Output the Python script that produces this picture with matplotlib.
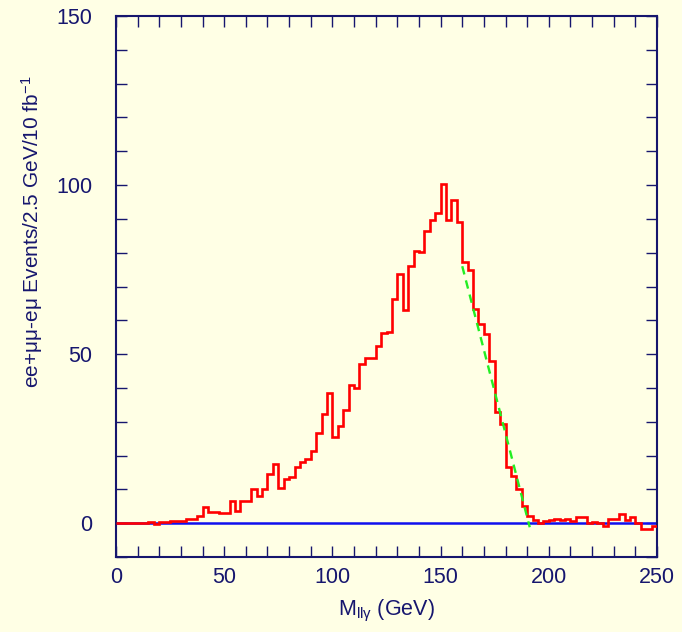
import numpy as np
import matplotlib
matplotlib.use("Agg")
import matplotlib.pyplot as plt
from matplotlib.ticker import MultipleLocator

# ---- data ----
bin_width = 2.5
x_start = 0.0
counts = [
    0, 0, 0, 0, 0, 0, 0.4, -0.2, 0.4, 0.4,
    0.7, 0.7, 0.7, 1.1, 1.1, 2.1, 4.8, 3.2, 3.2, 2.9,
    2.9, 6.6, 3.6, 6.6, 6.6, 10.0, 8.0, 10.0, 14.5, 17.4,
    10.4, 13.0, 13.7, 16.7, 18.1, 19.1, 21.4, 26.7, 32.2, 38.6,
    25.4, 28.8, 33.4, 40.8, 40.1, 47.2, 48.9, 48.9, 52.5, 56.3,
    56.6, 66.3, 73.7, 63.0, 76.0, 80.5, 80.2, 86.5, 89.8, 91.6,
    100.3, 89.6, 95.6, 89.0, 77.2, 74.8, 63.2, 59.0, 56.0, 48.1,
    32.9, 29.2, 16.5, 14.0, 10.0, 5.1, 2.1, 0.8, 0.1, 0.5,
    1.0, 1.2, 0.9, 1.3, 0.5, 1.8, 1.8, 0.1, 0.4, 0.1,
    -0.8, 1.2, 1.2, 2.6, 1.0, 1.7, 0.0, -1.8, -1.8, -0.8,
]
fit_x = [160.0, 191.2]
fit_y = [76.0, -1.2]
x_ticks = [0, 50, 100, 150, 200, 250]
y_ticks = [0, 50, 100, 150]

# ---- style ----
bg = "#FFFFE5"
navy = "#16166E"
plt.rcParams["font.family"] = ["Liberation Sans", "DejaVu Sans"]
plt.rcParams["mathtext.fontset"] = "custom"
plt.rcParams["mathtext.rm"] = "Liberation Sans"
plt.rcParams["mathtext.it"] = "Liberation Sans"
plt.rcParams["mathtext.bf"] = "Liberation Sans:bold"

fig = plt.figure(figsize=(6.82, 6.32), dpi=100, facecolor=bg)
ax = fig.add_axes([116 / 682, 1 - 557 / 632, (657 - 116) / 682, (557 - 16) / 632])
ax.set_facecolor(bg)

edges = x_start + bin_width * np.arange(len(counts) + 1)
ax.stairs(counts, edges, baseline=None, color="#FF0000", lw=1.9, zorder=3)
ax.plot(fit_x, fit_y, color="#22EE22", lw=1.7, dashes=(3.6, 2.6), zorder=4)
ax.axhline(0, color="#1010EE", lw=1.8, zorder=2)

ax.set_xlim(0, 250)
ax.set_ylim(-10, 150)
ax.set_xticks(x_ticks)
ax.set_yticks(y_ticks)
ax.xaxis.set_minor_locator(MultipleLocator(10))
ax.yaxis.set_minor_locator(MultipleLocator(10))

for s in ax.spines.values():
    s.set_color(navy)
    s.set_linewidth(1.5)

ax.tick_params(which="both", direction="in", top=True, right=True,
               color=navy, width=1.0, labelcolor=navy, labelsize=15.5)
ax.tick_params(which="major", length=8)
ax.tick_params(which="minor", length=8)
ax.tick_params(axis="x", which="major", pad=7)
ax.tick_params(axis="y", which="major", pad=17)

ax.set_xlabel(r"M$_{\mathrm{ll\gamma}}$ (GeV)", color=navy, fontsize=15.5, labelpad=7)
fig.text(32 / 682, 1 - 232 / 632, r"ee+μμ-eμ Events/2.5 GeV/10 fb$^{-1}$",
         rotation=90, ha="center", va="center", color=navy, fontsize=15)

fig.savefig("out.png", dpi=100, facecolor=bg)
